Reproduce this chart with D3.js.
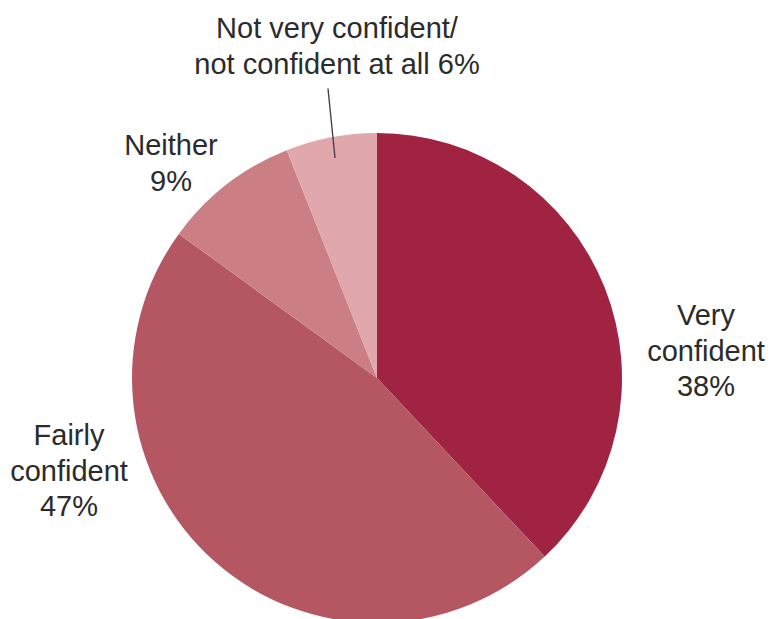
<!DOCTYPE html>
<html>
<head>
<meta charset="utf-8">
<script src="https://cdn.jsdelivr.net/npm/d3@7"></script>
<style>
  html, body { margin: 0; padding: 0; background: #ffffff; }
  svg { display: block; }
  text { font-family: "Liberation Sans", Arial, Helvetica, sans-serif; fill: #2b2b2b; }
</style>
</head>
<body>
<svg id="chart" width="773" height="619"></svg>
<script>
// Survey answers, clockwise from 12 o'clock
const categories = ["Very confident", "Fairly confident", "Neither", "Not very confident/not confident at all"];
const shares = [38, 47, 9, 6];
const labelLines = [
  ["Very", "confident", "38%"],
  ["Fairly", "confident", "47%"],
  ["Neither", "9%"],
  ["Not very confident/", "not confident at all 6%"]
];
const colors = ["#a02442", "#b45762", "#cb7e84", "#e0a8ad"];

const width = 773, height = 619;
const cx = 377, cy = 378, radius = 245;
const fontSize = 29, lineHeight = 35.5;

// Where each label block sits (x centre, first baseline)
const labelPlacement = [
  { x: 706, y: 325 },
  { x: 69, y: 445 },
  { x: 171, y: 155 },
  { x: 337, y: 38 }
];

const svg = d3.select("#chart");
const g = svg.append("g").attr("transform", `translate(${cx},${cy})`);

const data = categories.map((c, i) => ({ category: c, value: shares[i], color: colors[i], lines: labelLines[i], place: labelPlacement[i] }));

const pie = d3.pie().sort(null).value(d => d.value).startAngle(0).endAngle(2 * Math.PI);
const arc = d3.arc().innerRadius(0).outerRadius(radius);
const arcs = pie(data);

g.selectAll("path.slice")
  .data(arcs)
  .join("path")
  .attr("class", "slice")
  .attr("d", arc)
  .attr("fill", d => d.data.color);

// Labels
const labels = svg.append("g").attr("class", "labels");
arcs.forEach(a => {
  const t = labels.append("text")
    .attr("text-anchor", "middle")
    .attr("font-size", fontSize);
  a.data.lines.forEach((line, j) => {
    t.append("tspan")
      .attr("x", a.data.place.x)
      .attr("y", a.data.place.y + j * lineHeight)
      .text(line);
  });
});

// Leader line for the smallest slice
const smallest = arcs[3];
const mid = (smallest.startAngle + smallest.endAngle) / 2;
const innerR = 224;
const start = [cx + innerR * Math.sin(mid), cy - innerR * Math.cos(mid)];
const lastPlace = smallest.data.place;
const end = [lastPlace.x - 9, lastPlace.y + lineHeight + 15];
svg.append("line")
  .attr("x1", start[0]).attr("y1", start[1])
  .attr("x2", end[0]).attr("y2", end[1])
  .attr("stroke", "#444")
  .attr("stroke-width", 1.4);
</script>
</body>
</html>
